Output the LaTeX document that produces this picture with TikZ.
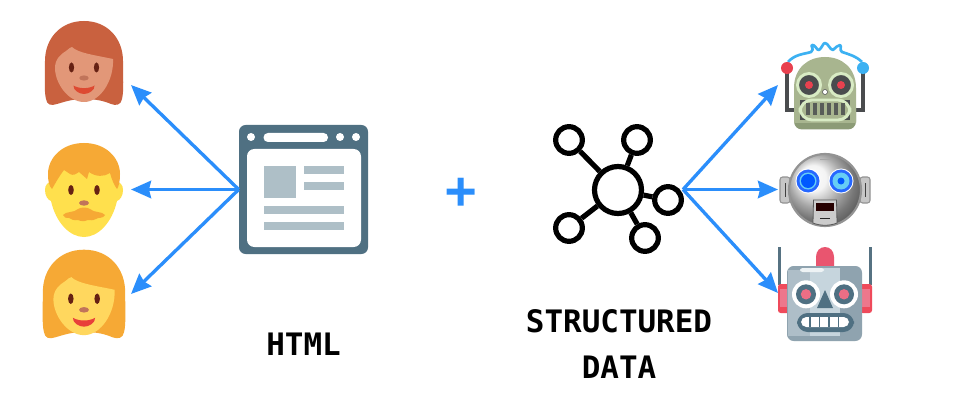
\documentclass[tikz,border=0pt]{standalone}
\usepackage{fontspec}
\setmainfont{DejaVu Sans Mono}
\usetikzlibrary{arrows.meta}
\definecolor{arrowblue}{HTML}{2B8EFB}
\definecolor{slate}{HTML}{4F7082}
\definecolor{slatelight}{HTML}{AEBFC7}
\definecolor{hairred}{HTML}{C9613F}
\definecolor{skinred}{HTML}{E29778}
\definecolor{hairgold}{HTML}{F6A935}
\definecolor{skingold}{HTML}{FFD75E}
\definecolor{skinyellow}{HTML}{FFE04D}
\definecolor{nosegold}{HTML}{C1745A}
\definecolor{eyedark}{HTML}{662113}
\definecolor{lipred}{HTML}{DD4A32}
\definecolor{lipgold}{HTML}{E8403A}
\definecolor{moss}{HTML}{A8B58F}
\definecolor{mossdark}{HTML}{8C9B76}
\definecolor{mossring}{HTML}{D8EBC4}
\definecolor{graphite}{HTML}{4A4C4E}
\definecolor{alarm}{HTML}{E8414F}
\definecolor{sky}{HTML}{3CB1F2}
\definecolor{steel}{HTML}{AEBEC8}
\definecolor{steeldark}{HTML}{8FA3AF}
\definecolor{steellight}{HTML}{C6D5DD}
\definecolor{lamp}{HTML}{E9556F}
\definecolor{earred}{HTML}{EF4A5B}
\tikzset{
  link/.style={draw=arrowblue,line width=2.5pt,-{Stealth[length=15pt,width=13pt,inset=1.5pt]}},
  caption/.style={font=\fontsize{23.2pt}{34.5pt}\selectfont\bfseries,text=black,align=center,inner sep=0pt},
  hubring/.style={circle,draw=black,line width=3.9pt,fill=white,inner sep=0pt,minimum size=#1},
  spoke/.style={draw=black,line width=3.9pt},
}
\newcommand{\WomanIcon}[3]{%
  \fill[#1] (0,-42) .. controls (24,-42) and (39,-24) .. (39,-2)
    .. controls (39,12) and (40,28) .. (38,36)
    .. controls (37,42) and (32,43) .. (27,41)
    .. controls (20,38) and (12,36) .. (0,36)
    .. controls (-12,36) and (-20,39) .. (-27,41)
    .. controls (-33,43) and (-37,42) .. (-38,36)
    .. controls (-40,28) and (-39,12) .. (-39,-2)
    .. controls (-39,-24) and (-24,-42) .. (0,-42) -- cycle;
  \fill[#2] (-29,5) .. controls (-29,-4) and (-23,-9) .. (-18,-12)
    .. controls (-15,-14) and (-14,-16) .. (-12,-16)
    .. controls (-6,-10) and (10,-8) .. (29,-4)
    .. controls (30,18) and (16,39) .. (0,39)
    .. controls (-16,39) and (-29,20) .. (-29,5) -- cycle;
  \fill[eyedark] (-12.5,4.5) ellipse (2.6 and 5);
  \fill[eyedark] (12.5,4.5) ellipse (2.6 and 5);
  \fill[nosegold] (0,15) ellipse (4.7 and 2.6);
  \fill[#3] (-10.5,22.5) .. controls (-5,26) and (5,26) .. (10.5,22.5)
    .. controls (11,27) and (5,31) .. (0,31)
    .. controls (-5,31) and (-11,27) .. (-10.5,22.5) -- cycle;
}
\begin{document}
\begin{tikzpicture}[x=0.75pt,y=-0.75pt]
\useasboundingbox (0,0) rectangle (963,417);
\fill[white] (0,0) rectangle (963,417);

% people
\begin{scope}[shift={(84,63)}]
  \WomanIcon{hairred}{skinred}{lipred}
\end{scope}
\begin{scope}[shift={(84,294)},scale=1.055]
  \WomanIcon{hairgold}{skingold}{lipgold}
\end{scope}
% bearded man
\begin{scope}[shift={(84,190)}]
  \fill[skinyellow] (-39,0) .. controls (-39,-5) and (-36,-8) .. (-33,-8) -- (-30,-30) -- (30,-30) -- (33,-8)
     .. controls (36,-8) and (39,-5) .. (39,0) .. controls (39,6) and (36,10) .. (33,11)
     .. controls (28,33) and (14,47) .. (0,47) .. controls (-14,47) and (-28,33) .. (-33,11)
     .. controls (-36,10) and (-39,6) .. (-39,0) -- cycle;
  \fill[hairgold] (0,-47) .. controls (22,-47) and (36,-32) .. (36,-16)
     .. controls (36,-9) and (35,-4) .. (33,-1)
     .. controls (30,-5) and (28,-10) .. (26,-17)
     .. controls (20,-13) and (12,-13) .. (5,-18) -- (3,-11) -- (-5,-18)
     .. controls (-8,-16) and (-11,-14) .. (-14,-16) -- (-20,-20)
     .. controls (-24,-15) and (-28,-8) .. (-32,-1)
     .. controls (-35,-4) and (-36,-9) .. (-36,-16)
     .. controls (-36,-32) and (-22,-47) .. (0,-47) -- cycle;
  \fill[eyedark] (-13,0) ellipse (2.8 and 5);
  \fill[eyedark] (13,0) ellipse (2.8 and 5);
  \fill[nosegold] (0,13) ellipse (5 and 2.7);
  \fill[hairgold] (-21,25) .. controls (-18,21) and (-10,23) .. (-6,19)
     .. controls (-3,17) and (3,17) .. (6,19)
     .. controls (10,23) and (18,21) .. (21,25)
     .. controls (19,29) and (14,27) .. (12,29) .. controls (8,31) and (6,30) .. (4,30)
     .. controls (0,32) and (-4,31) .. (-6,30) .. controls (-10,31) and (-13,29) .. (-15,28)
     .. controls (-18,28) and (-20,28) .. (-21,25) -- cycle;
\end{scope}

% html page
\node[fill=slate,rounded corners=5pt,minimum width=96.75pt,minimum height=96.75pt,inner sep=0pt] (html) at (303.5,189.5) {};
\fill[white,rounded corners=5.5pt] (247,149) rectangle (361,247);
\fill[white] (251,137) circle (4);
\fill[white] (340,137) circle (4);
\fill[white] (356,137) circle (4);
\fill[white,rounded corners=3.3pt] (263.5,133) rectangle (328,142);
\fill[slatelight] (263.5,166) rectangle (296,198);
\fill[slatelight] (304,166) rectangle (344,174);
\fill[slatelight] (304,182) rectangle (344,190);
\fill[slatelight] (263.5,206) rectangle (344,214);
\fill[slatelight] (263.5,222) rectangle (344,230);

% plus
\node[text=arrowblue,inner sep=0pt,font=\fontsize{39pt}{39pt}\selectfont\bfseries] (plus) at (461.5,193.5) {+};

% hub
\node[hubring=35.25pt] (hub) at (618,190) {};
\node[hubring=20pt] (n1) at (569,140) {};
\node[hubring=20pt] (n2) at (637,140) {};
\node[hubring=20pt] (n3) at (668,200) {};
\node[hubring=20pt] (n4) at (645,238) {};
\node[hubring=20pt] (n5) at (569,228) {};
\draw[spoke] (hub) -- (n1);
\draw[spoke] (hub) -- (n2);
\draw[spoke] (hub) -- (n3);
\draw[spoke] (hub) -- (n4);
\draw[spoke] (hub) -- (n5);

% green robot
\draw[graphite,line width=2.3pt] (787,70) -- (787,110) -- (797,110);
\draw[graphite,line width=2.3pt] (863,70) -- (863,110) -- (853,110);
\draw[sky,line width=2pt,line join=round] (788,62) .. controls (795,54) and (805,54) .. (811,52)
  .. controls (815,49) and (810,46) .. (812,45) .. controls (815,44) and (817,51) .. (819,50)
  .. controls (822,48) and (823,43) .. (825,43) .. controls (828,43) and (830,50) .. (833,50)
  .. controls (836,48) and (837,45) .. (840,45) .. controls (842,46) and (839,50) .. (842,52)
  .. controls (848,54) and (856,56) .. (862,62);
\fill[mossdark,rounded corners=6pt] (794,100) rectangle (856,129.5);
\fill[moss] (794,123) -- (794,88) .. controls (794,68) and (808,57) .. (825,57)
   .. controls (842,57) and (856,68) .. (856,88) -- (856,123) -- cycle;
\fill[alarm] (787,68) circle (6);
\fill[sky] (863,68) circle (6);
\foreach \ex in {809,841}{
  \fill[graphite] (\ex,85) circle (11.5);
  \draw[mossring,line width=2.2pt] (\ex,85) circle (11.5);
  \fill[alarm] (\ex,85) circle (4);
}
\fill[white,draw=graphite,line width=.4pt] (825,92) circle (2.5);
\fill[graphite] (800,100) rectangle (850,120);
\fill[moss,rounded corners=9pt] (800,100) rectangle (850,120);
\draw[mossring,line width=2.2pt,rounded corners=9pt] (800,100) rectangle (850,120);
\foreach \bx in {808,815,822,829,836,843}{
  \fill[graphite!85!moss] (\bx-2,103) rectangle (\bx+2,115);
}

% grey robot
\foreach \es in {780,860}{
  \fill[gray!45,rounded corners=2pt,draw=gray!85,line width=.8pt] (\es,177) rectangle (\es+10,203);
  \draw[gray!50!black,line width=.7pt] (\es+5,183) -- (\es+5,197);
}
\shade[ball color=gray!12,draw=gray!85,line width=1.6pt] (825,190) circle (36);
\draw[gray!70,line width=1pt] (820,159.5) -- (831,159.5);
\foreach \ex/\er in {808/7,841/3.5}{
  \fill[white] (\ex,181) circle (12.5);
  \fill[blue!70!cyan!85!white] (\ex,181) circle (11.5);
  \fill[cyan!60!white] (\ex,181) circle (8.5);
  \fill[blue!65!cyan] (\ex,181) circle (\er);
}
\fill[gray!40!white,draw=gray!70!black,line width=.6pt] (813.5,200) -- (836.5,200) -- (837,223) .. controls (830,226) and (820,226) .. (813,223) -- cycle;
\fill[black!85!red] (816,203) rectangle (834,211);
\draw[gray!30!black,line width=.7pt] (820,218.5) -- (830,218.5);

% steel robot
\fill[slate!85!gray] (778,247) rectangle (781,285);
\fill[slate!85!gray] (869,247) rectangle (872,285);
\fill[earred,rounded corners=2pt] (778,284) rectangle (790,313);
\fill[earred,rounded corners=2pt] (860,284) rectangle (872,313);
\fill[lamp!80!white] (780,289) rectangle (790,307);
\fill[lamp!80!white] (860,289) rectangle (870,307);
\fill[lamp] (816,268) -- (816,257) .. controls (816,251) and (820,247) .. (825,247)
  .. controls (830,247) and (834,251) .. (834,257) -- (834,268) -- cycle;
\fill[steeldark,rounded corners=5pt] (787,266) rectangle (862,341);
\fill[steellight] (810,268) rectangle (840,336);
\fill[steel] (787.5,270) rectangle (810,336);
\fill[white!70!steellight,rounded corners=2pt] (800,268) rectangle (824,272);
\foreach \ex in {806,844}{
  \fill[white] (\ex,294.3) circle (14);
  \fill[slate] (\ex,294.3) circle (10);
  \fill[lamp!85!white] (\ex,294.3) circle (5.2);
}
\fill[slate] (825,290) -- (817,308) -- (833,308) -- cycle;
\fill[slate,rounded corners=8pt] (797,313) rectangle (854,332);
\fill[white,rounded corners=4pt] (801,317) rectangle (849,327);
\foreach \tx in {810,819.5,829,838.5}{
  \draw[slate,line width=.8pt] (\tx,317) -- (\tx,327);
}

% captions
\node[caption] (htmlcap) at (303.5,344) {HTML};
\node[caption] (sdcap) at (619,344) {STRUCTURED\\DATA};

% connectors
\coordinate (pa) at (131,85);
\coordinate (pb) at (131,189.5);
\coordinate (pc) at (131,294);
\coordinate (hubout) at (683,189.5);
\coordinate (ra) at (778,85);
\coordinate (rb) at (778,189.5);
\coordinate (rc) at (778,293);
\draw[link] (html.west) -- (pa);
\draw[link] (html.west) -- (pb);
\draw[link] (html.west) -- (pc);
\draw[link] (hubout) -- (ra);
\draw[link] (hubout) -- (rb);
\draw[link] (hubout) -- (rc);
\end{tikzpicture}
\end{document}
